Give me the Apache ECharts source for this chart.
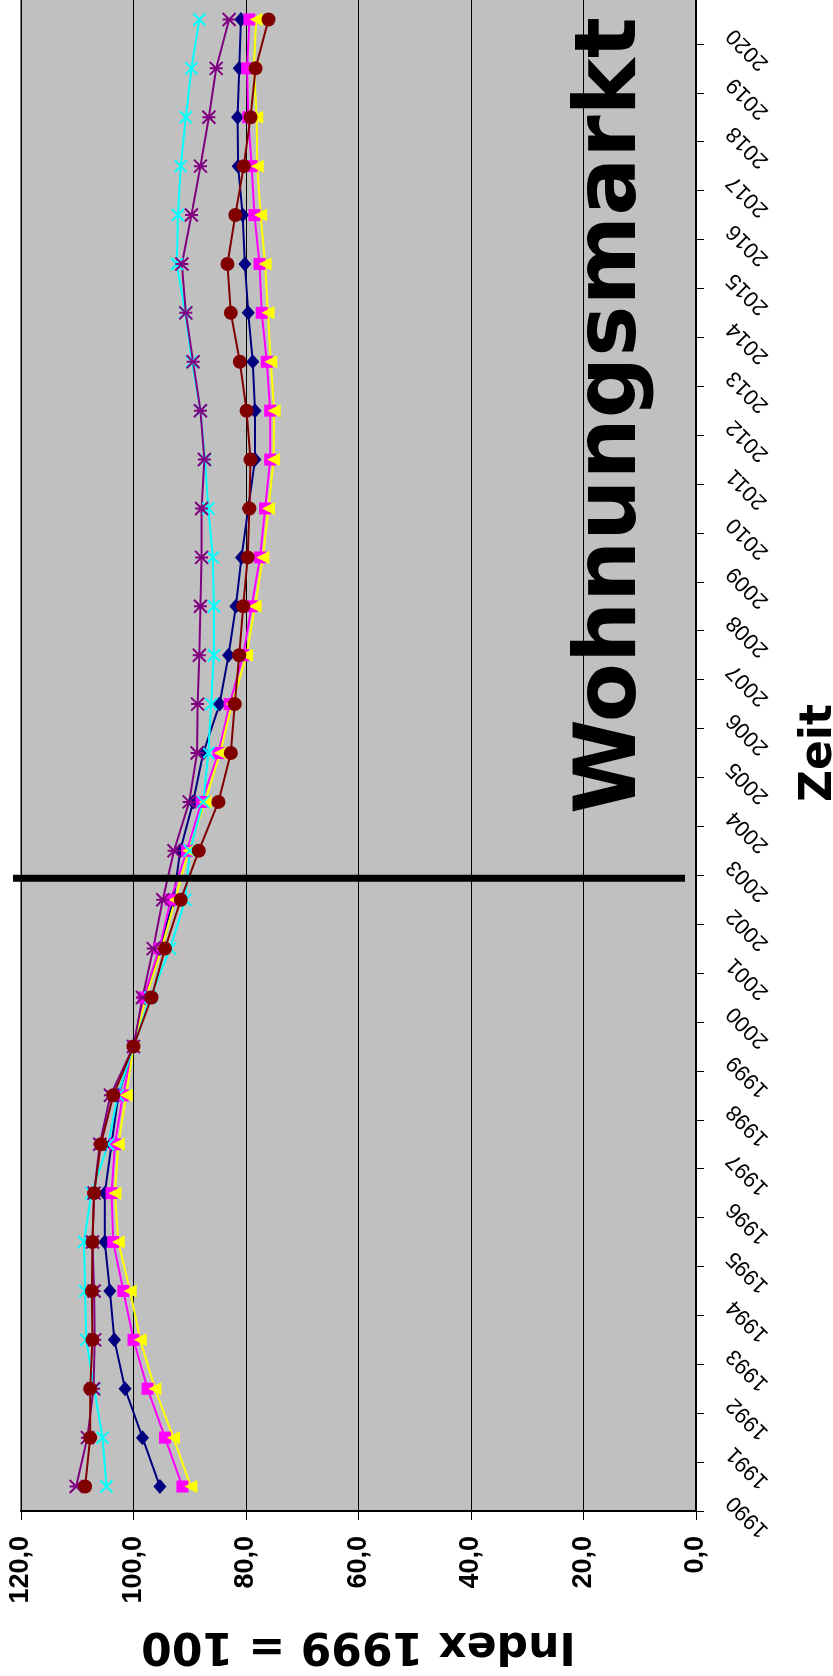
<!DOCTYPE html>
<html>
<head>
<meta charset="utf-8">
<title>Wohnungsmarkt</title>
<script src="https://cdn.jsdelivr.net/npm/echarts@6/dist/echarts.min.js"></script>
<style>
html, body { margin: 0; padding: 0; background: #fff; }
#chart { width: 833px; height: 1676px; }
</style>
</head>
<body>
<div id="chart"></div>
<script>
// Jahre (Kategorieachse, im Bild senkrecht)
var years = ['1990', '1991', '1992', '1993', '1994', '1995', '1996', '1997', '1998', '1999',
    '2000', '2001', '2002', '2003', '2004', '2005', '2006', '2007', '2008', '2009',
    '2010', '2011', '2012', '2013', '2014', '2015', '2016', '2017', '2018', '2019', '2020'];

// Index 1999 = 100
var reihe1 = [95.3, 98.4, 101.5, 103.4, 104.2, 105.1, 105.1, 103.9, 102.7, 100.0, 98.0, 95.3, 92.9, 91.7, 89.4, 87.6,
    84.7, 83.1, 81.8, 80.8, 79.6, 78.4, 78.4, 78.8, 79.6, 80.2, 80.6, 81.4, 81.5, 81.2, 80.9];
var reihe2 = [91.3, 94.4, 97.5, 100.0, 101.8, 103.6, 103.9, 103.3, 101.9, 100.0, 98.2, 95.4, 93.4, 90.5, 87.9, 84.9,
    82.9, 80.5, 79.0, 77.5, 76.6, 75.7, 75.7, 76.3, 77.2, 77.6, 78.5, 79.0, 79.6, 79.8, 79.4];
var reihe3 = [89.8, 92.9, 96.2, 98.8, 100.6, 102.7, 103.3, 102.7, 101.3, 100.0, 97.8, 95.0, 92.6, 90.2, 87.3, 84.6,
    82.5, 79.9, 78.4, 77.0, 76.0, 75.1, 75.0, 75.6, 76.1, 76.6, 77.4, 78.0, 78.1, 78.6, 78.2];
var reihe4 = [104.8, 105.5, 107.0, 108.4, 108.6, 108.8, 107.5, 104.5, 102.8, 100.0, 97.0, 93.5, 90.8, 90.0, 87.6, 86.7,
    86.2, 85.7, 85.7, 85.9, 86.7, 87.3, 88.1, 89.6, 90.8, 92.3, 92.1, 91.6, 90.7, 89.7, 88.3];
var reihe5 = [110.2, 108.2, 107.1, 106.9, 107.0, 107.3, 107.0, 106.0, 104.1, 100.0, 98.4, 96.5, 94.8, 92.8, 90.1, 88.7,
    88.6, 88.3, 88.1, 87.9, 87.9, 87.4, 88.1, 89.4, 90.7, 91.4, 89.7, 88.1, 86.6, 85.3, 83.0];
var reihe6 = [108.6, 107.7, 107.7, 107.3, 107.4, 107.3, 107.0, 105.8, 103.6, 100.0, 96.8, 94.4, 91.6, 88.4, 84.9, 82.7,
    82.0, 81.2, 80.5, 79.7, 79.4, 79.2, 79.9, 81.1, 82.7, 83.3, 81.9, 80.4, 79.2, 78.3, 76.0];

var titleFont = 'DejaVu Sans';
var tickFont = 'Liberation Sans';

var chart = echarts.init(document.getElementById('chart'));

function pairs(values) {
    return values.map(function (v, i) { return [v, years[i]]; });
}

function line(name, values, color, symbol, size, extra) {
    var s = {
        name: name,
        type: 'line',
        data: pairs(values),
        symbol: symbol,
        symbolSize: size,
        showAllSymbol: true,
        lineStyle: { color: color, width: 2 },
        itemStyle: { color: color, borderColor: color, borderWidth: 0 },
        emphasis: { disabled: true }
    };
    for (var k in extra) s[k] = extra[k];
    return s;
}

var option = {
    animation: false,
    grid: {
        left: 21, right: 137, top: -5, bottom: 165,
        show: true,
        backgroundColor: '#C0C0C0',
        borderColor: '#808080',
        borderWidth: 2,
        containLabel: false,
        outerBoundsMode: 'none'
    },
    xAxis: {
        type: 'value',
        min: 0, max: 120, interval: 20,
        inverse: true,
        position: 'bottom',
        axisLine: { show: true, lineStyle: { color: '#000', width: 2 } },
        axisTick: { show: true, length: 9, lineStyle: { color: '#000', width: 1 } },
        splitLine: { show: true, lineStyle: { color: '#000', width: 1 } },
        axisLabel: {
            rotate: 90,
            margin: 25,
            fontFamily: tickFont,
            fontSize: 27,
            fontWeight: 'bold',
            color: '#000',
            formatter: function (v) { return v.toFixed(1).replace('.', ','); }
        },
        name: 'Index 1999 = 100',
        nameLocation: 'middle',
        nameRotate: 180,
        nameGap: 111,
        nameMoveOverlap: false,
        nameTextStyle: { fontFamily: titleFont, fontSize: 44, fontWeight: 'bold', color: '#000' }
    },
    yAxis: {
        type: 'category',
        data: years,
        position: 'right',
        boundaryGap: true,
        axisLine: { show: true, lineStyle: { color: '#000', width: 2 } },
        axisTick: { show: true, length: 8, interval: 0, lineStyle: { color: '#000', width: 1 } },
        splitLine: { show: false },
        axisLabel: {
            interval: 0,
            rotate: 135,
            margin: 47,
            align: 'right',
            verticalAlign: 'bottom',
            padding: [0, 0, 7, 0],
            fontFamily: tickFont,
            fontSize: 22,
            color: '#000'
        },
        name: 'Zeit',
        nameLocation: 'middle',
        nameGap: 102,
        nameMoveOverlap: false,
        nameTextStyle: { fontFamily: titleFont, fontSize: 44, fontWeight: 'bold', color: '#000' }
    },
    series: [
        line('Reihe1', reihe1, '#000080', 'diamond', [13, 15]),
        line('Reihe2', reihe2, '#FF00FF', 'rect', 12),
        line('Reihe3', reihe3, '#FFFF00', 'triangle', 13, { symbolRotate: 90 }),
        line('Reihe4', reihe4, '#00FFFF', 'path://M0,0L10,10M10,0L0,10', 12,
            { itemStyle: { color: '#00FFFF', borderColor: '#00FFFF', borderWidth: 2 } }),
        line('Reihe5', reihe5, '#800080', 'path://M0,0L10,10M10,0L0,10M0,5L10,5', 13,
            { itemStyle: { color: '#800080', borderColor: '#800080', borderWidth: 2 } }),
        line('Reihe6', reihe6, '#800000', 'circle', 14)
    ]
};

chart.setOption(option);

// Trennlinie zwischen 2002 und 2003, Titel im Diagramm
var yA = chart.convertToPixel({ yAxisIndex: 0 }, '2002');
var yB = chart.convertToPixel({ yAxisIndex: 0 }, '2003');
var yCut = (yA + yB) / 2 + 3;

chart.setOption({
    graphic: [
        {
            type: 'line',
            z: 100,
            shape: { x1: 13, y1: yCut, x2: 685, y2: yCut },
            style: { stroke: '#000', lineWidth: 7 }
        },
        {
            type: 'text',
            z: 100,
            x: 613,
            y: 814,
            rotation: Math.PI / 2,
            style: {
                text: 'Wohnungsmarkt',
                fontFamily: titleFont,
                fontSize: 86,
                fontWeight: 'bold',
                fill: '#000',
                align: 'left',
                verticalAlign: 'middle'
            }
        }
    ]
});
</script>
</body>
</html>
